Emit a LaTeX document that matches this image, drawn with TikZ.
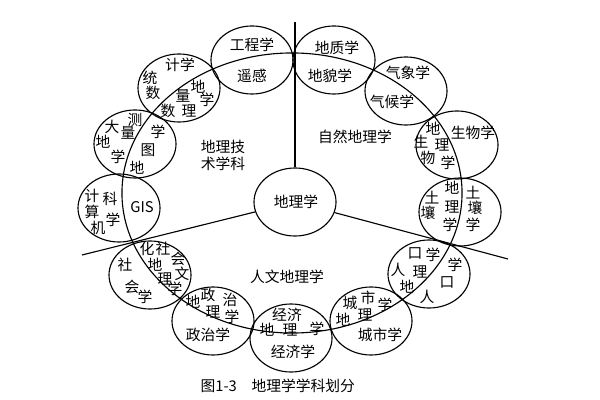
\documentclass[tikz,border=0pt]{standalone}
\usepackage{fontspec}
\usepackage{tikz}
\usetikzlibrary{shapes.geometric}
\newfontfamily\cjk{Noto Sans CJK SC}

\begin{document}
\begin{tikzpicture}[x=0.025cm, y=-0.025cm, line width=0.8pt,
      ring/.style={draw, ellipse, minimum width=2.05cm, minimum height=1.7cm, inner sep=0pt},
      lab/.style={font=\cjk\fontsize{10.5}{12}\selectfont, inner sep=0pt},
      zone/.style={font=\cjk\fontsize{10.5}{12}\selectfont, inner sep=0pt, align=center}]
  \useasboundingbox (0,0) rectangle (600,400);
  % Core and the three branches
  \node[ring] (dl) at (295,202) {};
  \node[lab] (dl-t) at (296,202) {地理学};
  \coordinate (top)  at (295,22);
  \coordinate (west) at (82,255);
  \coordinate (east) at (508,259);
  \draw (top) -- (dl);
  \draw (dl) -- (west);
  \draw (dl) -- (east);
  \node[zone] (tech) at (223,155) {地理技\\术学科};
  \node[zone] (nat)  at (355,137) {自然地理学};
  \node[zone] (hum)  at (287,277) {人文地理学};
  % Dividing curve through the ring
  \draw (292,193) ellipse [x radius=4.25cm, y radius=3.5cm];
  % Ring of neighbouring sciences
  \node[ring] (gc) at (252,60)  {};
  \node[ring] (dz) at (334,60)  {};
  \node[ring] (tj) at (179,88)  {};
  \node[ring] (qx) at (406,91)  {};
  \node[ring] (cl) at (135,144) {};
  \node[ring] (sw) at (457,145) {};
  \node[ring] (js) at (119,208) {};
  \node[ring] (tr) at (460,212) {};
  \node[ring] (sh) at (150,275) {};
  \node[ring] (rk) at (429,274) {};
  \node[ring] (zz) at (213,321) {};
  \node[ring] (cs) at (371,321) {};
  \node[ring] (jj) at (291,338) {};
  % Remote sensing
  \node[lab] (gc-1) at (252,45) {工程学};
  \node[lab] (gc-2) at (252,76) {遥感};
  % Geomorphology
  \node[lab] (dz-1) at (337,48) {地质学};
  \node[lab] (dz-2) at (330,76) {地貌学};
  % Quantitative geography
  \node[lab] (tj-1) at (180,65)  {计学};
  \node[lab] (tj-2) at (150,78)  {统};
  \node[lab] (tj-3) at (153,93)  {数};
  \node[lab] (tj-4) at (198,87)  {地};
  \node[lab] (tj-5) at (183,96)  {量};
  \node[lab] (tj-6) at (207,100) {学};
  \node[lab] (tj-7) at (168,111) {数};
  \node[lab] (tj-8) at (189,111) {理};
  % Climatology
  \node[lab] (qx-1) at (408,73)  {气象学};
  \node[lab] (qx-2) at (392,102) {气候学};
  % Cartography
  \node[lab] (cl-1) at (135,120) {测};
  \node[lab] (cl-2) at (112,127) {大};
  \node[lab] (cl-3) at (128,133) {量};
  \node[lab] (cl-4) at (103,142) {地};
  \node[lab] (cl-5) at (118,157) {学};
  \node[lab] (cl-6) at (158,132) {学};
  \node[lab] (cl-7) at (148,150) {图};
  \node[lab] (cl-8) at (137,168) {地};
  % Biogeography
  \node[lab] (sw-1) at (433,129) {地};
  \node[lab] (sw-2) at (421,142) {生};
  \node[lab] (sw-3) at (442,145) {理};
  \node[lab] (sw-4) at (428,158) {物};
  \node[lab] (sw-5) at (448,163) {学};
  \node[lab] (sw-6) at (473,133) {生物学};
  % GIS
  \node[lab] (js-1) at (92,196)  {计};
  \node[lab] (js-2) at (110,199) {科};
  \node[lab] (js-3) at (92,212)  {算};
  \node[lab] (js-4) at (113,220) {学};
  \node[lab] (js-5) at (98,228)  {机};
  \node[lab] (js-6) at (142,207) {GIS};
  % Soil geography
  \node[lab] (tr-1) at (452,188) {地};
  \node[lab] (tr-2) at (452,207) {理};
  \node[lab] (tr-3) at (450,225) {学};
  \node[lab] (tr-4) at (432,198) {土};
  \node[lab] (tr-5) at (428,213) {壤};
  \node[lab] (tr-6) at (473,193) {土};
  \node[lab] (tr-7) at (475,208) {壤};
  \node[lab] (tr-8) at (473,225) {学};
  % Social and cultural geography
  \node[lab] (sh-1)  at (147,249) {化};
  \node[lab] (sh-2)  at (163,249) {社};
  \node[lab] (sh-3)  at (178,259) {会};
  \node[lab] (sh-4)  at (155,265) {地};
  \node[lab] (sh-5)  at (182,274) {文};
  \node[lab] (sh-6)  at (165,279) {理};
  \node[lab] (sh-7)  at (175,289) {学};
  \node[lab] (sh-8)  at (125,265) {社};
  \node[lab] (sh-9)  at (132,287) {会};
  \node[lab] (sh-10) at (145,297) {学};
  % Population geography
  \node[lab] (rk-1) at (415,253) {口};
  \node[lab] (rk-2) at (433,255) {学};
  \node[lab] (rk-3) at (398,270) {人};
  \node[lab] (rk-4) at (420,272) {理};
  \node[lab] (rk-5) at (407,287) {地};
  \node[lab] (rk-6) at (455,265) {学};
  \node[lab] (rk-7) at (447,282) {口};
  \node[lab] (rk-8) at (427,297) {人};
  % Political geography
  \node[lab] (zz-1) at (208,295) {政};
  \node[lab] (zz-2) at (230,300) {治};
  \node[lab] (zz-3) at (193,302) {地};
  \node[lab] (zz-4) at (213,312) {理};
  \node[lab] (zz-5) at (232,317) {学};
  \node[lab] (zz-6) at (208,335) {政治学};
  % Urban geography
  \node[lab] (cs-1) at (368,298) {市};
  \node[lab] (cs-2) at (350,303) {城};
  \node[lab] (cs-3) at (385,305) {学};
  \node[lab] (cs-4) at (365,315) {理};
  \node[lab] (cs-5) at (343,320) {地};
  \node[lab] (cs-6) at (380,335) {城市学};
  % Economic geography
  \node[lab] (jj-1) at (287,315) {经济};
  \node[lab] (jj-2) at (267,330) {地};
  \node[lab] (jj-3) at (290,330) {理};
  \node[lab] (jj-4) at (317,329) {学};
  \node[lab] (jj-5) at (293,352) {经济学};
  % Caption
  \node[lab, anchor=west] (cap) at (200,386) {图1-3\quad 地理学学科划分};
\end{tikzpicture}
\end{document}
